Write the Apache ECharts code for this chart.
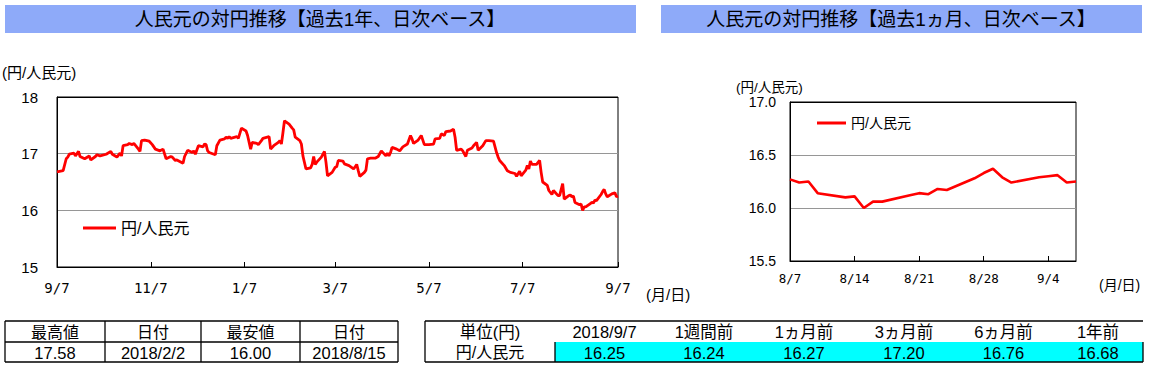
<!DOCTYPE html>
<html><head><meta charset="utf-8">
<script src="https://cdn.jsdelivr.net/npm/echarts@6/dist/echarts.min.js"></script>
<style>html,body{margin:0;padding:0;background:#fff}#c{width:1150px;height:370px}</style>
</head><body><div id="c"></div>
<script>
// ---- Data: past one year, daily (円/人民元) ----
const yearDates = [
'2017-09-07','2017-09-11','2017-09-13','2017-09-14','2017-09-15','2017-09-18','2017-09-19','2017-09-21','2017-09-22','2017-09-25',
'2017-09-28','2017-09-29','2017-10-02','2017-10-03','2017-10-05','2017-10-09','2017-10-12','2017-10-13','2017-10-16','2017-10-18',
'2017-10-19','2017-10-20','2017-10-23','2017-10-24','2017-10-26','2017-10-27','2017-10-30','2017-10-31','2017-11-01','2017-11-03',
'2017-11-06','2017-11-08','2017-11-10','2017-11-13','2017-11-15','2017-11-17','2017-11-20','2017-11-21','2017-11-23','2017-11-24',
'2017-11-28','2017-11-29','2017-12-01','2017-12-04','2017-12-05','2017-12-06','2017-12-08','2017-12-11','2017-12-12','2017-12-13',
'2017-12-14','2017-12-15','2017-12-19','2017-12-20','2017-12-22','2017-12-25','2017-12-26','2017-12-27','2017-12-28','2017-12-29',
'2018-01-02','2018-01-03','2018-01-05','2018-01-08','2018-01-09','2018-01-11','2018-01-12','2018-01-15','2018-01-16','2018-01-18',
'2018-01-19','2018-01-23','2018-01-24','2018-01-26','2018-01-29','2018-01-30','2018-01-31','2018-02-01','2018-02-02','2018-02-05',
'2018-02-07','2018-02-08','2018-02-09','2018-02-12','2018-02-13','2018-02-14','2018-02-16','2018-02-19','2018-02-20','2018-02-21',
'2018-02-22','2018-02-23','2018-02-26','2018-02-28','2018-03-01','2018-03-02','2018-03-05','2018-03-07','2018-03-08','2018-03-09',
'2018-03-12','2018-03-13','2018-03-16','2018-03-19','2018-03-21','2018-03-22','2018-03-23','2018-03-26','2018-03-27','2018-03-28',
'2018-03-30','2018-04-02','2018-04-04','2018-04-06','2018-04-09','2018-04-10','2018-04-11','2018-04-12','2018-04-13','2018-04-16',
'2018-04-18','2018-04-20','2018-04-23','2018-04-25','2018-04-26','2018-04-27','2018-04-30','2018-05-02','2018-05-04','2018-05-07',
'2018-05-10','2018-05-11','2018-05-14','2018-05-15','2018-05-17','2018-05-18','2018-05-21','2018-05-23','2018-05-24','2018-05-25',
'2018-05-28','2018-05-29','2018-05-31','2018-06-01','2018-06-04','2018-06-05','2018-06-07','2018-06-08','2018-06-11','2018-06-13',
'2018-06-15','2018-06-18','2018-06-20','2018-06-21','2018-06-22','2018-06-25','2018-06-27','2018-06-29','2018-07-02','2018-07-03',
'2018-07-05','2018-07-06','2018-07-09','2018-07-10','2018-07-11','2018-07-12','2018-07-13','2018-07-16','2018-07-18','2018-07-19',
'2018-07-20','2018-07-23','2018-07-24','2018-07-26','2018-07-27','2018-07-30','2018-07-31','2018-08-02','2018-08-03','2018-08-06',
'2018-08-07','2018-08-08','2018-08-09','2018-08-10','2018-08-13','2018-08-14','2018-08-15','2018-08-16','2018-08-17','2018-08-20',
'2018-08-21','2018-08-22','2018-08-23','2018-08-24','2018-08-27','2018-08-28','2018-08-29','2018-08-30','2018-08-31','2018-09-03',
'2018-09-04','2018-09-05','2018-09-06','2018-09-07'
];
const yearValues = [
16.68,16.70,16.91,16.94,16.99,17.01,16.96,17.04,16.95,16.91,
16.96,16.89,16.95,16.98,16.96,16.99,17.04,16.99,16.94,17.01,
16.96,17.14,17.16,17.18,17.16,17.18,17.08,17.04,17.23,17.24,
17.22,17.16,17.08,17.05,17.08,16.91,16.95,16.94,16.88,16.89,
16.83,16.95,17.06,17.02,17.05,16.99,17.14,17.12,17.17,17.16,
17.05,17.02,16.98,17.14,17.24,17.26,17.29,17.27,17.30,17.27,
17.30,17.27,17.45,17.40,17.32,17.08,17.20,17.18,17.16,17.23,
17.27,17.30,17.08,17.14,17.20,17.23,17.17,17.37,17.58,17.52,
17.45,17.42,17.29,17.23,17.17,16.96,16.73,16.75,16.81,16.95,
16.81,16.85,16.94,17.04,16.85,16.61,16.67,16.76,16.77,16.88,
16.87,16.82,16.79,16.73,16.81,16.70,16.60,16.67,16.71,16.91,
16.92,16.92,16.95,17.05,16.96,17.01,16.96,17.02,17.11,17.08,
17.05,17.12,17.17,17.32,17.26,17.18,17.24,17.32,17.16,17.16,
17.17,17.26,17.27,17.35,17.32,17.39,17.40,17.43,17.29,17.06,
17.08,17.05,16.95,17.06,17.10,17.14,17.20,17.06,17.14,17.23,
17.23,17.22,17.02,16.94,16.88,16.79,16.70,16.67,16.65,16.60,
16.69,16.61,16.71,16.79,16.73,16.87,16.81,16.81,16.88,16.67,
16.50,16.44,16.35,16.28,16.35,16.26,16.26,16.47,16.20,16.26,
16.27,16.24,16.25,16.14,16.10,16.11,16.00,16.06,16.06,16.12,
16.14,16.13,16.18,16.17,16.28,16.33,16.37,16.29,16.24,16.29,
16.30,16.31,16.24,16.25
];
const yearTickDates = ['2017-09-07','2017-11-07','2018-01-07','2018-03-07','2018-05-07','2018-07-07','2018-09-07'];
const yearTickLabels = ['9/7','11/7','1/7','3/7','5/7','7/7','9/7'];

// ---- Data: past one month, daily ----
const monthDates = ['2018-08-07','2018-08-08','2018-08-09','2018-08-10','2018-08-13','2018-08-14','2018-08-15','2018-08-16','2018-08-17','2018-08-20',
'2018-08-21','2018-08-22','2018-08-23','2018-08-24','2018-08-27','2018-08-28','2018-08-29','2018-08-30','2018-08-31','2018-09-03',
'2018-09-04','2018-09-05','2018-09-06','2018-09-07'];
const monthValues = [16.27,16.24,16.25,16.14,16.10,16.11,16.00,16.06,16.06,16.12,
16.14,16.13,16.18,16.17,16.28,16.33,16.37,16.29,16.24,16.29,
16.30,16.31,16.24,16.25];
const monthTickDates = ['2018-08-07','2018-08-14','2018-08-21','2018-08-28','2018-09-04'];
const monthTickLabels = ['8/7','8/14','8/21','8/28','9/4'];

// ---- Tables ----
const statHeaders = ['最高値','日付','最安値','日付'];
const statValues = ['17.58','2018/2/2','16.00','2018/8/15'];
const cmpHeaders = ['単位(円)','2018/9/7','1週間前','1ヵ月前','3ヵ月前','6ヵ月前','1年前'];
const cmpRowLabel = '円/人民元';
const cmpValues = ['16.25','16.24','16.27','17.20','16.76','16.68'];

const seriesName = '円/人民元';
const yearStart = '2017-09-07', yearEnd = '2018-09-07';
const monthStart = '2018-08-07', monthEnd = '2018-09-07';

// ---- helpers ----
const DAY = 86400000;
const dayIdx = (s, base) => Math.round((Date.parse(s + 'T00:00:00Z') - Date.parse(base + 'T00:00:00Z')) / DAY);
const yearTicks = yearTickDates.map(d => dayIdx(d, yearStart));
const monthTicks = monthTickDates.map(d => dayIdx(d, monthStart));
const lab = (ticks, labels) => v => { const i = ticks.indexOf(Math.round(v)); return i >= 0 ? labels[i] : ''; };

const JP = "'Liberation Sans','Noto Sans CJK JP',sans-serif";
const MONO = "'DejaVu Sans Mono','Liberation Mono',monospace";
const NARROW = "'Liberation Sans Narrow','Liberation Sans','Noto Sans CJK JP',sans-serif";

function txt(text, x, y, size, align, family) {
  return {
    type: 'text', x: x, y: y, silent: true,
    style: { text: text, fontSize: size, fontFamily: family || JP, fill: '#000',
      align: align || 'center', textAlign: align || 'center', verticalAlign: 'middle', textVerticalAlign: 'middle' }
  };
}
function ln(x1, y1, x2, y2, w) {
  return { type: 'line', silent: true, shape: { x1, y1, x2, y2 }, style: { stroke: '#000', lineWidth: w || 1 } };
}

const graphics = [];
// title bars
graphics.push({ type: 'rect', shape: { x: 5, y: 5, width: 631, height: 28 }, style: { fill: '#8EAAF9' }, silent: true });
graphics.push({ type: 'rect', shape: { x: 661, y: 5, width: 481, height: 28 }, style: { fill: '#8EAAF9' }, silent: true });
graphics.push(txt('人民元の対円推移【過去1年、日次ベース】', 320, 19, 19));
graphics.push(txt('人民元の対円推移【過去1ヵ月、日次ベース】', 901, 19, 19));
// axis names
graphics.push(txt('(円/人民元)', 2, 72, 15, 'left'));
graphics.push(txt('(月/日)', 646, 294, 15, 'left'));
graphics.push(txt('(円/人民元)', 736, 87, 13.5, 'left'));
graphics.push(txt('(月/日)', 1099, 285, 14, 'left'));

// left stats table
const stCols = [5, 105, 201, 300, 398];
const tTop = 321, tMid = 342, tBot = 362;
graphics.push(ln(stCols[0], tTop, stCols[4], tTop, 1.3));
graphics.push(ln(stCols[0], tMid, stCols[4], tMid, 1.3));
graphics.push(ln(stCols[0], tBot, stCols[4], tBot, 1.3));
stCols.forEach(x => graphics.push(ln(x, tTop, x, tBot, 1.3)));
statHeaders.forEach((h, i) => graphics.push(txt(h, (stCols[i] + stCols[i + 1]) / 2, 332, 16, 'center', NARROW)));
statValues.forEach((h, i) => graphics.push(txt(h, (stCols[i] + stCols[i + 1]) / 2, 352.5, 16.5, 'center', NARROW)));

// right comparison table
const cCols = [425, 555, 654, 754, 854, 954, 1053, 1143];
graphics.push({ type: 'rect', silent: true, shape: { x: 555, y: tMid, width: 588, height: tBot - tMid }, style: { fill: '#00FFFF' } });
graphics.push(ln(425, tTop, 1143, tTop, 1.3));
graphics.push(ln(425, tBot, 1143, tBot, 1.3));
graphics.push(ln(425, tTop, 425, tBot, 1.3));
graphics.push(ln(555, tMid, 555, tBot, 1.3));
graphics.push(ln(1143, tMid, 1143, tBot, 1.3));
cmpHeaders.forEach((h, i) => graphics.push(txt(h, (cCols[i] + cCols[i + 1]) / 2, 332, 16.5, 'center', NARROW)));
graphics.push(txt(cmpRowLabel, (cCols[0] + cCols[1]) / 2, 352.5, 16, 'center', NARROW));
cmpValues.forEach((h, i) => graphics.push(txt(h, (cCols[i + 1] + cCols[i + 2]) / 2, 352.5, 16.5, 'center', NARROW)));

const chart = echarts.init(document.getElementById('c'), null, { renderer: 'svg' });
chart.setOption({
  animation: false,
  backgroundColor: '#fff',
  grid: [
    { left: 57, top: 97, width: 561, height: 170, show: true, borderColor: '#000', borderWidth: 1, containLabel: false },
    { left: 790, top: 102, width: 286, height: 159, show: true, borderColor: '#000', borderWidth: 1, containLabel: false }
  ],
  xAxis: [
    { type: 'value', gridIndex: 0, min: 0, max: dayIdx(yearEnd, yearStart),
      axisLine: { show: true, lineStyle: { color: '#000', width: 1 } },
      axisTick: { show: true, inside: true, length: 5, customValues: yearTicks, lineStyle: { color: '#000' } },
      axisLabel: { customValues: yearTicks, formatter: lab(yearTicks, yearTickLabels), fontSize: 14, margin: 14, fontFamily: MONO, color: '#000' },
      splitLine: { show: false } },
    { type: 'value', gridIndex: 1, min: 0, max: dayIdx(monthEnd, monthStart),
      axisLine: { show: true, lineStyle: { color: '#000', width: 1 } },
      axisTick: { show: true, inside: true, length: 5, customValues: monthTicks, lineStyle: { color: '#000' } },
      axisLabel: { customValues: monthTicks, formatter: lab(monthTicks, monthTickLabels), fontSize: 12.5, margin: 11, fontFamily: MONO, color: '#000' },
      splitLine: { show: false } }
  ],
  yAxis: [
    { type: 'value', gridIndex: 0, min: 15, max: 18, interval: 1,
      axisLine: { show: true, lineStyle: { color: '#000' } }, axisTick: { show: false },
      axisLabel: { fontSize: 15, margin: 19, fontFamily: JP, color: '#000' },
      splitLine: { show: true, lineStyle: { color: ['#000', '#969696', '#969696', '#000'], width: 1 } } },
    { type: 'value', gridIndex: 1, min: 15.5, max: 17, interval: 0.5,
      axisLine: { show: true, lineStyle: { color: '#000' } }, axisTick: { show: false },
      axisLabel: { fontSize: 14, margin: 14, formatter: v => v.toFixed(1), fontFamily: JP, color: '#000' },
      splitLine: { show: true, lineStyle: { color: ['#000', '#969696', '#969696', '#000'], width: 1 } } }
  ],
  legend: [
    { data: [seriesName], left: 83, top: 220, padding: 0, icon: 'rect', itemWidth: 33, itemHeight: 3,
      textStyle: { fontSize: 16, fontFamily: JP, color: '#000' }, selectedMode: false },
    { data: [seriesName], left: 817, top: 116, padding: 0, icon: 'rect', itemWidth: 29, itemHeight: 3,
      textStyle: { fontSize: 14, fontFamily: JP, color: '#000' }, selectedMode: false }
  ],
  series: [
    { name: seriesName, type: 'line', xAxisIndex: 0, yAxisIndex: 0, showSymbol: false, symbol: 'none',
      lineStyle: { color: '#FF0000', width: 2.8 }, itemStyle: { color: '#FF0000' },
      data: yearDates.map((d, i) => [dayIdx(d, yearStart), yearValues[i]]) },
    { name: seriesName, type: 'line', xAxisIndex: 1, yAxisIndex: 1, showSymbol: false, symbol: 'none',
      lineStyle: { color: '#FF0000', width: 2.6 }, itemStyle: { color: '#FF0000' },
      data: monthDates.map((d, i) => [dayIdx(d, monthStart), monthValues[i]]) }
  ],
  graphic: graphics
});
</script></body></html>
